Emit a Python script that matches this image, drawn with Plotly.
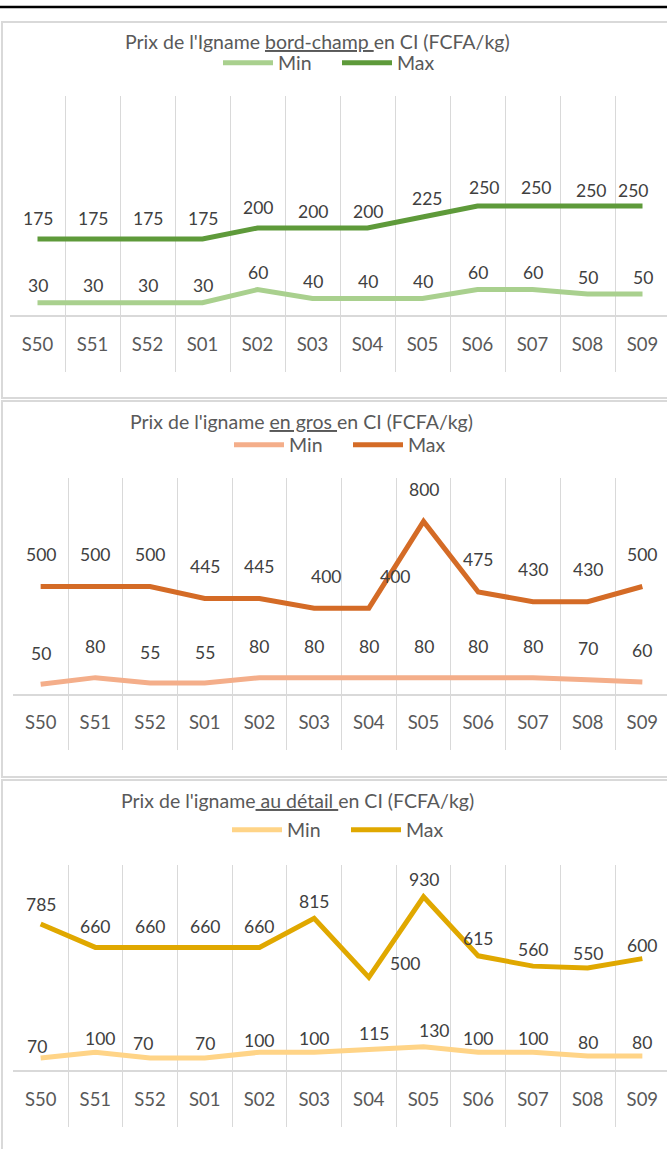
import plotly.graph_objects as go

# ---------------- data ----------------
weeks = ["S50", "S51", "S52", "S01", "S02", "S03", "S04", "S05", "S06", "S07", "S08", "S09"]

bord_champ_min = [30, 30, 30, 30, 60, 40, 40, 40, 60, 60, 50, 50]
bord_champ_max = [175, 175, 175, 175, 200, 200, 200, 225, 250, 250, 250, 250]

gros_min = [50, 80, 55, 55, 80, 80, 80, 80, 80, 80, 70, 60]
gros_max = [500, 500, 500, 445, 445, 400, 400, 800, 475, 430, 430, 500]

detail_min = [70, 100, 70, 70, 100, 100, 115, 130, 100, 100, 80, 80]
detail_max = [785, 660, 660, 660, 660, 815, 500, 930, 615, 560, 550, 600]

titles = [
    "Prix de l'Igname <u>bord-champ </u>en CI (FCFA/kg)",
    "Prix de l'igname <u>en gros </u>en CI (FCFA/kg)",
    "Prix de l'igname<u> au détail </u>en CI (FCFA/kg)",
]
series_names = ["Min", "Max"]
y_max = [500, 1000, 1100]

# ---------------- style ----------------
W, H = 667, 1149
FONT = "Lato, 'Open Sans', sans-serif"
GRID = "#D9D9D9"
colors = [("#A9D08E", "#5E9A3A"), ("#F4AE8A", "#D46B26"), ("#FFD487", "#E0A800")]

# pixel layout of each panel (top of plot, zero line, bottom of plot, left edge, category width)
geom = [
    dict(box=(22, 398), top=96, zero=316, bottom=372, left=10.0, cw=55.0,
         title=(317, 42), legend=(218, 63), off=(17, 20)),
    dict(box=(401, 777), top=478, zero=695, bottom=750, left=13.3, cw=54.7,
         title=(301, 421), legend=(229, 445), off=(31, 32)),
    dict(box=(780, 1170), top=865, zero=1071, bottom=1127, left=13.3, cw=54.7,
         title=(297, 800), legend=(227, 830), off=(14, 17)),
]
# label nudges (panel, series, index) -> (dx, dy) in px
nudges = {
    (0, 1, 4): (0, 0), (0, 1, 5): (0, -4), (0, 1, 6): (0, -4), (0, 1, 7): (4, -2),
    (0, 1, 8): (6, -2), (0, 1, 9): (3, -2), (0, 1, 10): (3, -5), (0, 1, 11): (-10, -5),
    (1, 1, 5): (12, 0), (1, 1, 6): (26, 0),
    (2, 1, 0): (0, 2), (2, 1, 1): (0, 4), (2, 1, 2): (0, 4), (2, 1, 3): (0, 4), (2, 1, 4): (0, 4),
    (2, 1, 6): (36, -3), (2, 1, 10): (0, -3), (2, 1, 11): (0, -4),
    (2, 0, 0): (-4, -3), (2, 0, 1): (5, 0), (2, 0, 2): (-7, 0), (2, 0, 4): (0, -2),
    (2, 0, 6): (5, 2), (2, 0, 7): (10, 2),
}

def py(px):
    return 1 - px / H

data_sets = [(bord_champ_min, bord_champ_max), (gros_min, gros_max), (detail_min, detail_max)]

fig = go.Figure()
layout = dict(
    width=W, height=H, autosize=False,
    margin=dict(l=0, r=0, t=0, b=0),
    paper_bgcolor="white", plot_bgcolor="rgba(0,0,0,0)",
    font=dict(family=FONT, color="#595959"),
    shapes=[], annotations=[],
)

for i, (mins, maxs) in enumerate(data_sets):
    g = geom[i]
    sfx = "" if i == 0 else str(i + 1)
    leg = "legend" if i == 0 else f"legend{i + 1}"
    ppu = (g["zero"] - g["top"]) / y_max[i]
    ybot = -(g["bottom"] - g["zero"]) / ppu
    ncat = (W - g["left"]) / g["cw"]

    layout["xaxis" + sfx] = dict(
        domain=[g["left"] / W, 1], range=[-0.5, -0.5 + ncat], type="category",
        tickson="boundaries", showgrid=True, gridcolor=GRID, gridwidth=1.3,
        ticks="", ticklabelposition="inside", ticklabelstandoff=14,
        tickfont=dict(family=FONT, size=18.5, color="#595959"),
        showline=False, zeroline=False, anchor="y" + sfx, fixedrange=True,
    )
    layout["yaxis" + sfx] = dict(
        domain=[py(g["bottom"]), py(g["top"])], range=[ybot, y_max[i]],
        showgrid=False, zeroline=True, zerolinecolor=GRID, zerolinewidth=2,
        showticklabels=False, ticks="", anchor="x" + sfx, fixedrange=True,
    )
    layout[leg] = dict(
        orientation="h", x=g["legend"][0] / W, y=py(g["legend"][1]),
        xanchor="left", yanchor="middle", itemwidth=50, entrywidth=54,
        font=dict(family=FONT, size=19.5, color="#595959"),
        bgcolor="rgba(0,0,0,0)", borderwidth=0, tracegroupgap=0,
    )
    for s, vals in enumerate((mins, maxs)):
        fig.add_trace(go.Scatter(
            x=weeks, y=vals, mode="lines", name=series_names[s],
            line=dict(color=colors[i][s], width=5),
            xaxis="x" + sfx, yaxis="y" + sfx, legend=leg, hoverinfo="skip",
        ))
        for k, v in enumerate(vals):
            dx, dy = nudges.get((i, s, k), (0, 0))
            layout["annotations"].append(dict(
                x=weeks[k], y=v, xref="x" + sfx, yref="y" + sfx, text=str(v),
                showarrow=False, xanchor="center", yanchor="middle",
                xshift=dx, yshift=g["off"][s] + dy,
                font=dict(family=FONT, size=17.5, color="#404040"),
            ))
    # title
    layout["annotations"].append(dict(
        x=g["title"][0] / W, y=py(g["title"][1]), xref="paper", yref="paper",
        text=titles[i], showarrow=False, xanchor="center", yanchor="middle",
        font=dict(family=FONT, size=19.5, color="#595959"),
    ))
    # panel frame
    layout["shapes"].append(dict(
        type="rect", xref="paper", yref="paper", x0=2 / W, x1=1.05,
        y0=py(g["box"][1]), y1=py(g["box"][0]),
        line=dict(color=GRID, width=2), fillcolor="rgba(0,0,0,0)", layer="below",
    ))

# top black rule
layout["shapes"].append(dict(
    type="line", xref="paper", yref="paper", x0=0, x1=1, y0=py(7), y1=py(7),
    line=dict(color="black", width=2.5),
))

fig.update_layout(**layout)
fig.write_html(
    "out.html",
    config={"displayModeBar": False},
    post_script="document.body.style.margin='0';document.body.style.overflow='hidden';",
)
